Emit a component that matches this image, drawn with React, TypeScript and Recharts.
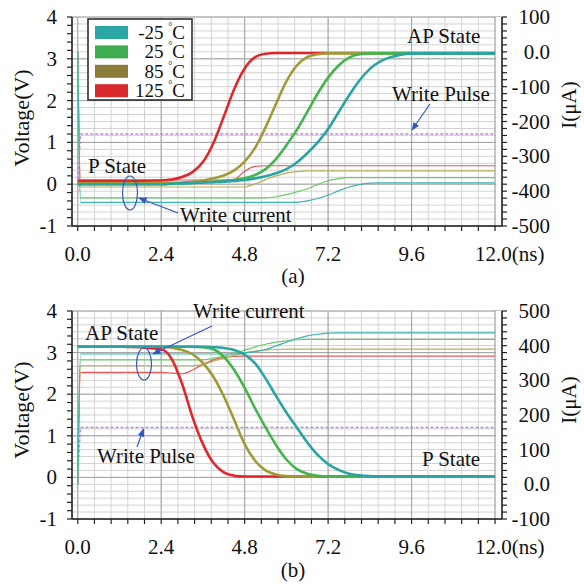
import React from 'react';
import { LineChart, Line, XAxis, YAxis, CartesianGrid, ReferenceArea } from 'recharts';

const FONT = '"Liberation Serif", "Times New Roman", serif';

// temperatures, one colour per corner
const temps = ['-25', '25', '85', '125'];
const voltColors = ['#2aa3a3', '#43b54c', '#a09a38', '#e0282c'];
const currColors = ['#3cb4b4', '#6cc96c', '#b3b058', '#e85858'];
const swatchColors = ['#2aa6a4', '#3fae52', '#8b7b39', '#d8282c'];

// axis labels
const xMajor = [0, 2.4, 4.8, 7.2, 9.6, 12];
const xLabels = ['0.0', '2.4', '4.8', '7.2', '9.6', '12.0'];
const vMajor = [-1, 0, 1, 2, 3, 4];
const iMajorA = [-500, -400, -300, -200, -100, 0, 100];
const iMajorB = [-100, 0, 100, 200, 300, 400, 500];

// time base (ns), shared by both panels
const time = [0, 0.08, 1.2, 2.4, 2.7, 3.0, 3.3, 3.6, 3.9, 4.2, 4.5, 4.8, 5.1, 5.4, 5.7, 6.0, 6.3, 6.6, 6.9, 7.2, 7.5, 7.8, 8.1, 8.4, 8.7, 9.0, 9.3, 9.6, 9.9, 10.8, 12.0];

const pulse = [0, 1.2, 1.2, 1.2, 1.2, 1.2, 1.2, 1.2, 1.2, 1.2, 1.2, 1.2, 1.2, 1.2, 1.2, 1.2, 1.2, 1.2, 1.2, 1.2, 1.2, 1.2, 1.2, 1.2, 1.2, 1.2, 1.2, 1.2, 1.2, 1.2, 1.2];

// (a) P -> AP, voltage (V)
const aVm25 = [0, 0, 0, 0, 0.01, 0.02, 0.03, 0.04, 0.05, 0.06, 0.08, 0.10, 0.14, 0.19, 0.26, 0.36, 0.52, 0.74, 1.00, 1.32, 1.72, 2.12, 2.48, 2.76, 2.94, 3.04, 3.10, 3.13, 3.13, 3.13, 3.13];
const aV25 = [0, 0, 0, 0, 0.01, 0.02, 0.03, 0.04, 0.06, 0.08, 0.10, 0.14, 0.22, 0.36, 0.60, 0.93, 1.30, 1.73, 2.17, 2.55, 2.84, 3.03, 3.11, 3.13, 3.13, 3.13, 3.13, 3.13, 3.13, 3.13, 3.13];
const aV85 = [0.02, 0.02, 0.02, 0.02, 0.03, 0.04, 0.06, 0.09, 0.14, 0.21, 0.33, 0.54, 0.87, 1.36, 1.92, 2.46, 2.84, 3.04, 3.11, 3.13, 3.13, 3.13, 3.13, 3.13, 3.13, 3.13, 3.13, 3.13, 3.13, 3.13, 3.13];
const aV125 = [0.08, 0.08, 0.08, 0.09, 0.11, 0.17, 0.29, 0.53, 0.98, 1.62, 2.28, 2.77, 3.04, 3.12, 3.14, 3.14, 3.14, 3.14, 3.14, 3.14, 3.14, 3.14, 3.14, 3.14, 3.14, 3.14, 3.14, 3.14, 3.14, 3.14, 3.14];

// (a) write current (uA)
const aIm25 = [0, -432, -432, -432, -432, -432, -432, -432, -432, -432, -432, -432, -432, -432, -432, -432, -432, -428, -421, -411, -399, -388, -381, -377, -376, -376, -376, -376, -376, -376, -376];
const aI25 = [0, -419, -419, -419, -419, -419, -419, -419, -419, -419, -419, -419, -419, -419, -416, -410, -402, -393, -381, -370, -364, -361, -361, -361, -361, -361, -361, -361, -361, -361, -361];
const aI85 = [0, -388, -388, -388, -388, -388, -388, -388, -388, -388, -388, -388, -379, -367, -356, -348, -344, -342, -342, -342, -342, -342, -342, -342, -342, -342, -342, -342, -342, -342, -342];
const aI125 = [0, -368, -368, -368, -368, -368, -368, -368, -368, -368, -366, -343, -329, -327, -327, -327, -327, -327, -327, -327, -327, -327, -327, -327, -327, -327, -327, -327, -327, -327, -327];

// (b) AP -> P, voltage (V)
const bVm25 = [3.14, 3.14, 3.14, 3.14, 3.14, 3.14, 3.14, 3.14, 3.13, 3.11, 3.06, 2.95, 2.74, 2.38, 1.96, 1.56, 1.20, 0.84, 0.54, 0.32, 0.18, 0.09, 0.05, 0.03, 0.02, 0.02, 0.02, 0.02, 0.02, 0.02, 0.02];
const bV25 = [3.14, 3.14, 3.14, 3.14, 3.14, 3.14, 3.14, 3.13, 3.08, 2.90, 2.58, 2.15, 1.66, 1.20, 0.78, 0.43, 0.20, 0.09, 0.04, 0.02, 0.02, 0.02, 0.02, 0.02, 0.02, 0.02, 0.02, 0.02, 0.02, 0.02, 0.02];
const bV85 = [3.14, 3.14, 3.14, 3.14, 3.12, 3.06, 2.96, 2.75, 2.42, 1.95, 1.38, 0.80, 0.40, 0.17, 0.07, 0.03, 0.02, 0.02, 0.02, 0.02, 0.02, 0.02, 0.02, 0.02, 0.02, 0.02, 0.02, 0.02, 0.02, 0.02, 0.02];
const bV125 = [3.14, 3.14, 3.14, 3.08, 2.85, 2.25, 1.45, 0.80, 0.35, 0.12, 0.04, 0.02, 0.02, 0.02, 0.02, 0.02, 0.02, 0.02, 0.02, 0.02, 0.02, 0.02, 0.02, 0.02, 0.02, 0.02, 0.02, 0.02, 0.02, 0.02, 0.02];

// (b) write current (uA)
const bIm25 = [0, 376, 376, 376, 376, 376, 376, 376, 376, 376, 376, 379, 383, 389, 399, 410, 420, 428, 433, 436, 437, 437, 437, 437, 437, 437, 437, 437, 437, 437, 437];
const bI25 = [0, 359, 359, 359, 359, 359, 359, 359, 364, 370, 378, 387, 396, 404, 410, 414, 417, 418, 418, 418, 418, 418, 418, 418, 418, 418, 418, 418, 418, 418, 418];
const bI85 = [0, 342, 342, 342, 342, 342, 342, 346, 355, 364, 372, 379, 384, 387, 389, 390, 390, 390, 390, 390, 390, 390, 390, 390, 390, 390, 390, 390, 390, 390, 390];
const bI125 = [0, 323, 323, 323, 321, 319, 330, 346, 359, 366, 369, 370, 370, 370, 370, 370, 370, 370, 370, 370, 370, 370, 370, 370, 370, 370, 370, 370, 370, 370, 370];

const buildRows = (volts: number[][], currs: number[][]) =>
  time.map((t, i) => {
    const row: any = { t, pulse: pulse[i] };
    volts.forEach((s, k) => (row['v' + k] = s[i]));
    currs.forEach((s, k) => (row['i' + k] = s[i]));
    return row;
  });

const dataA = buildRows([aVm25, aV25, aV85, aV125], [aIm25, aI25, aI85, aI125]);
const dataB = buildRows([bVm25, bV25, bV85, bV125], [bIm25, bI25, bI85, bI125]);

// minor tick positions
const xTicks = Array.from({ length: 26 }, (_, k) => Math.round(k * 48) / 100);
const vTicks = Array.from({ length: 26 }, (_, k) => Math.round((-1 + k * 0.2) * 10) / 10);
const iTicksA = Array.from({ length: 31 }, (_, k) => -500 + 20 * k);
const iTicksB = Array.from({ length: 31 }, (_, k) => -100 + 20 * k);

const near = (list: number[], v: number) => list.findIndex((m) => Math.abs(m - v) < 1e-6);

const XTick = (props: any) => {
  const { x, y, payload } = props;
  const k = near(xMajor, payload.value);
  if (k < 0) return <g />;
  const last = k === xMajor.length - 1;
  return (
    <text x={last ? x - 20 : x} y={y + 28} textAnchor={last ? 'start' : 'middle'} fontFamily={FONT} fontSize={21} fill="#111">
      {xLabels[k] + (last ? '(ns)' : '')}
    </text>
  );
};

const VTick = (props: any) => {
  const { x, y, payload } = props;
  if (near(vMajor, payload.value) < 0) return <g />;
  return (
    <text x={x} y={y} dy={7} textAnchor="end" fontFamily={FONT} fontSize={21} fill="#111">
      {String(payload.value)}
    </text>
  );
};

const makeITick = (majors: number[]) => (props: any) => {
  const { x, y, payload } = props;
  if (near(majors, payload.value) < 0) return <g />;
  return (
    <text x={x + 41} y={y} dy={7} textAnchor="end" fontFamily={FONT} fontSize={21} fill="#111">
      {payload.value === 0 ? '0.0' : String(payload.value)}
    </text>
  );
};

const axisLine = { stroke: '#222', strokeWidth: 1.6 };
const tickLine = { stroke: '#222', strokeWidth: 1.2 };

interface PanelProps {
  data: any[];
  top: number;
  height: number;
  marginTop: number;
  xHeight: number;
  iDomain: [number, number];
  iTicks: number[];
  iMajor: number[];
}

const Panel: React.FC<PanelProps> = ({ data, top, height, marginTop, xHeight, iDomain, iTicks, iMajor }) => (
  <div style={{ position: 'absolute', left: 0, top }}>
    <LineChart width={584} height={height} data={data} margin={{ top: marginTop, right: 0, bottom: 0, left: 0 }}>
      <CartesianGrid yAxisId="i" stroke="#d2d2d2" strokeWidth={1} />
      <CartesianGrid yAxisId="v" stroke="#a2a2a2" strokeWidth={1} verticalValues={xMajor} horizontalValues={vMajor} />
      <XAxis
        dataKey="t"
        type="number"
        domain={[-0.165, 12.2]}
        ticks={xTicks}
        interval={0}
        height={xHeight}
        tickSize={5}
        axisLine={axisLine}
        tickLine={tickLine}
        tick={<XTick />}
        allowDataOverflow
      />
      <YAxis
        yAxisId="v"
        domain={[-1, 4]}
        ticks={vTicks}
        interval={0}
        width={72}
        tickSize={5}
        tickMargin={10}
        axisLine={axisLine}
        tickLine={tickLine}
        tick={<VTick />}
        allowDataOverflow
      />
      <YAxis
        yAxisId="i"
        orientation="right"
        domain={iDomain}
        ticks={iTicks}
        interval={0}
        width={82}
        tickSize={5}
        tickMargin={2}
        axisLine={axisLine}
        tickLine={tickLine}
        tick={React.createElement(makeITick(iMajor))}
        allowDataOverflow
      />
      <ReferenceArea yAxisId="v" x1={12.03} x2={12.2} y1={-1} y2={4} fill="#fff" fillOpacity={1} stroke="none" />
      <Line yAxisId="v" dataKey="pulse" type="linear" stroke="#b98ad2" strokeWidth={1.4} strokeDasharray="3 2" dot={false} activeDot={false} isAnimationActive={false} />
      {[3, 2, 1, 0].map((k) => (
        <Line key={'i' + k} yAxisId="i" dataKey={'i' + k} type="monotone" stroke={currColors[k]} strokeWidth={1.2} dot={false} activeDot={false} isAnimationActive={false} />
      ))}
      {[3, 2, 1, 0].map((k) => (
        <Line key={'v' + k} yAxisId="v" dataKey={'v' + k} type="monotone" stroke={voltColors[k]} strokeWidth={2.6} dot={false} activeDot={false} isAnimationActive={false} />
      ))}
    </LineChart>
  </div>
);

const BLUE = '#3456be';

const Note = ({ x, y, children }: { x: number; y: number; children: React.ReactNode }) => (
  <text x={x} y={y} fontFamily={FONT} fontSize={21} fill="#111">
    {children}
  </text>
);

const Arrow = ({ x1, y1, x2, y2 }: { x1: number; y1: number; x2: number; y2: number }) => (
  <line x1={x1} y1={y1} x2={x2} y2={y2} stroke={BLUE} strokeWidth={1.2} markerEnd="url(#ah)" />
);

const Overlay = () => (
  <svg width={584} height={584} style={{ position: 'absolute', left: 0, top: 0, pointerEvents: 'none' }}>
    <defs>
      <marker id="ah" viewBox="0 0 10 10" refX="9" refY="5" markerWidth="7" markerHeight="7" orient="auto">
        <path d="M0,1 L10,5 L0,9 z" fill={BLUE} />
      </marker>
    </defs>

    {/* legend */}
    <rect x={88} y={19} width={104} height={81} fill="#fff" stroke="#222" strokeWidth={1.5} />
    {temps.map((t, i) => (
      <g key={t}>
        <rect x={95} y={26 + 19.4 * i} width={33} height={13} fill={swatchColors[i]} />
        <text x={185} y={39 + 19.4 * i} textAnchor="end" fontFamily={FONT} fontSize={19} fill="#111">
          {t + ' '}
          <tspan fontSize={10} dy={-9}>°</tspan>
          <tspan dy={9}>C</tspan>
        </text>
      </g>
    ))}

    {/* axis titles */}
    <text x={21} y={118} transform="rotate(-90 21 118)" textAnchor="middle" dominantBaseline="central" fontFamily={FONT} fontSize={22} fill="#111">Voltage(V)</text>
    <text x={21} y={410} transform="rotate(-90 21 410)" textAnchor="middle" dominantBaseline="central" fontFamily={FONT} fontSize={22} fill="#111">Voltage(V)</text>
    <text x={569} y={105} transform="rotate(-90 569 105)" textAnchor="middle" dominantBaseline="central" fontFamily={FONT} fontSize={21} fill="#111">I(μA)</text>
    <text x={569} y={400} transform="rotate(-90 569 400)" textAnchor="middle" dominantBaseline="central" fontFamily={FONT} fontSize={21} fill="#111">I(μA)</text>

    <text x={293} y={283} textAnchor="middle" fontFamily={FONT} fontSize={21} fill="#111">(a)</text>
    <text x={293} y={577} textAnchor="middle" fontFamily={FONT} fontSize={21} fill="#111">(b)</text>

    {/* panel (a) notes */}
    <Note x={407} y={43}>AP State</Note>
    <Note x={392} y={101}>Write Pulse</Note>
    <Arrow x1={430} y1={104} x2={412} y2={130} />
    <Note x={88} y={173}>P State</Note>
    <ellipse cx={130} cy={193} rx={7.5} ry={17} fill="none" stroke={BLUE} strokeWidth={1.2} />
    <Arrow x1={178} y1={213} x2={139} y2={198} />
    <Note x={180} y={222}>Write current</Note>

    {/* panel (b) notes */}
    <Note x={85} y={340}>AP State</Note>
    <Note x={193} y={318}>Write current</Note>
    <ellipse cx={144} cy={364} rx={7.5} ry={16} fill="none" stroke={BLUE} strokeWidth={1.2} />
    <Arrow x1={212} y1={326} x2={153} y2={354} />
    <Note x={97} y={463}>Write Pulse</Note>
    <Arrow x1={137} y1={447} x2={143.5} y2={429} />
    <Note x={422} y={466}>P State</Note>
  </svg>
);

export default function App() {
  return (
    <div style={{ position: 'absolute', left: 0, top: 0, width: 584, height: 584, background: '#fff', overflow: 'hidden' }}>
      <Panel data={dataA} top={0} height={290} marginTop={17} xHeight={64} iDomain={[-500, 100]} iTicks={iTicksA} iMajor={iMajorA} />
      <Panel data={dataB} top={290} height={294} marginTop={21} xHeight={65} iDomain={[-100, 500]} iTicks={iTicksB} iMajor={iMajorB} />
      <Overlay />
    </div>
  );
}
